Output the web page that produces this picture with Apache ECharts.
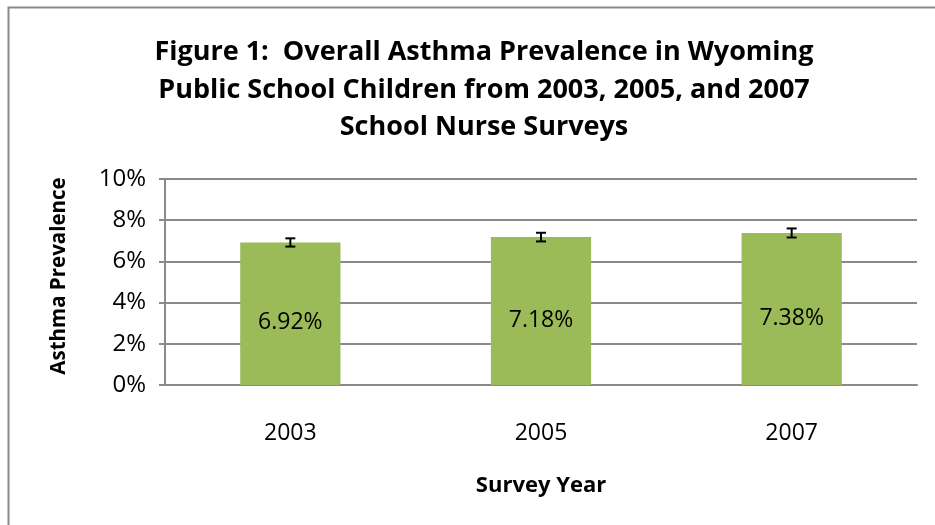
<!DOCTYPE html>
<html>
<head>
<meta charset="utf-8">
<script src="https://cdn.jsdelivr.net/npm/echarts@6/dist/echarts.min.js"></script>
<style>
  html, body { margin: 0; padding: 0; background: #fff; }
  #chart { width: 935px; height: 525px; }
</style>
</head>
<body>
<div id="chart"></div>
<script>
// Survey years and overall asthma prevalence (%)
const years = ['2003', '2005', '2007'];
const prevalence = [6.92, 7.18, 7.38];
// Error bar bounds (%)
const errLow = [6.72, 6.97, 7.16];
const errHigh = [7.12, 7.39, 7.60];
const yTicks = [0, 2, 4, 6, 8, 10];

const FONT = '"Open Sans", "Noto Sans", sans-serif';

const chart = echarts.init(document.getElementById('chart'));

chart.setOption({
  animation: false,
  backgroundColor: '#fff',
  title: {
    text: 'Figure 1:  Overall Asthma Prevalence in Wyoming\nPublic School Children from 2003, 2005, and 2007\nSchool Nurse Surveys',
    left: 479,
    textAlign: 'center',
    top: 29,
    textStyle: {
      fontFamily: FONT,
      fontWeight: 'bold',
      fontSize: 27,
      lineHeight: 37.5,
      color: '#000'
    }
  },
  graphic: [{
    type: 'rect',
    shape: { x: 8.5, y: 7.5, width: 1000, height: 1000 },
    style: { fill: 'none', stroke: '#8a8a8a', lineWidth: 2 },
    silent: true
  }],
  grid: { left: 165, right: 18, top: 179, bottom: 140 },
  xAxis: {
    type: 'category',
    data: years,
    name: 'Survey Year',
    nameLocation: 'middle',
    nameGap: 90,
    nameTextStyle: { fontFamily: FONT, fontWeight: 'bold', fontSize: 22, color: '#000' },
    axisLine: { lineStyle: { color: '#8a8a8a', width: 2 } },
    axisTick: { show: false },
    axisLabel: { fontFamily: FONT, fontSize: 23, color: '#000', margin: 37 }
  },
  yAxis: {
    type: 'value',
    min: yTicks[0],
    max: yTicks[yTicks.length - 1],
    interval: 2,
    name: 'Asthma Prevalence',
    nameLocation: 'middle',
    nameGap: 95,
    nameTextStyle: { fontFamily: FONT, fontWeight: 'bold', fontSize: 20.5, color: '#000', padding: [0, 0, 0, 12] },
    axisLine: { show: true, lineStyle: { color: '#8a8a8a', width: 2 } },
    axisTick: { show: true, length: 6, lineStyle: { color: '#8a8a8a', width: 2 } },
    splitLine: { lineStyle: { color: '#8a8a8a', width: 2 } },
    axisLabel: { fontFamily: FONT, fontSize: 24, color: '#000', margin: 19, formatter: '{value}%' }
  },
  series: [
    {
      type: 'bar',
      data: prevalence,
      barWidth: '40%',
      itemStyle: { color: '#9BBB59' },
      label: {
        show: true,
        position: 'inside',
        offset: [0, 9],
        fontFamily: FONT,
        fontSize: 23,
        color: '#000',
        formatter: p => p.value.toFixed(2) + '%'
      },
      z: 2
    },
    {
      type: 'custom',
      data: years.map((y, i) => [i, errLow[i], errHigh[i]]),
      renderItem: (params, api) => {
        const lo = api.coord([api.value(0), api.value(1)]);
        const hi = api.coord([api.value(0), api.value(2)]);
        const cap = 5;
        const style = { stroke: '#000', lineWidth: 2 };
        return {
          type: 'group',
          children: [
            { type: 'line', shape: { x1: lo[0], y1: lo[1], x2: hi[0], y2: hi[1] }, style },
            { type: 'line', shape: { x1: lo[0] - cap, y1: lo[1], x2: lo[0] + cap, y2: lo[1] }, style },
            { type: 'line', shape: { x1: hi[0] - cap, y1: hi[1], x2: hi[0] + cap, y2: hi[1] }, style }
          ]
        };
      },
      z: 3
    }
  ]
});
</script>
</body>
</html>
